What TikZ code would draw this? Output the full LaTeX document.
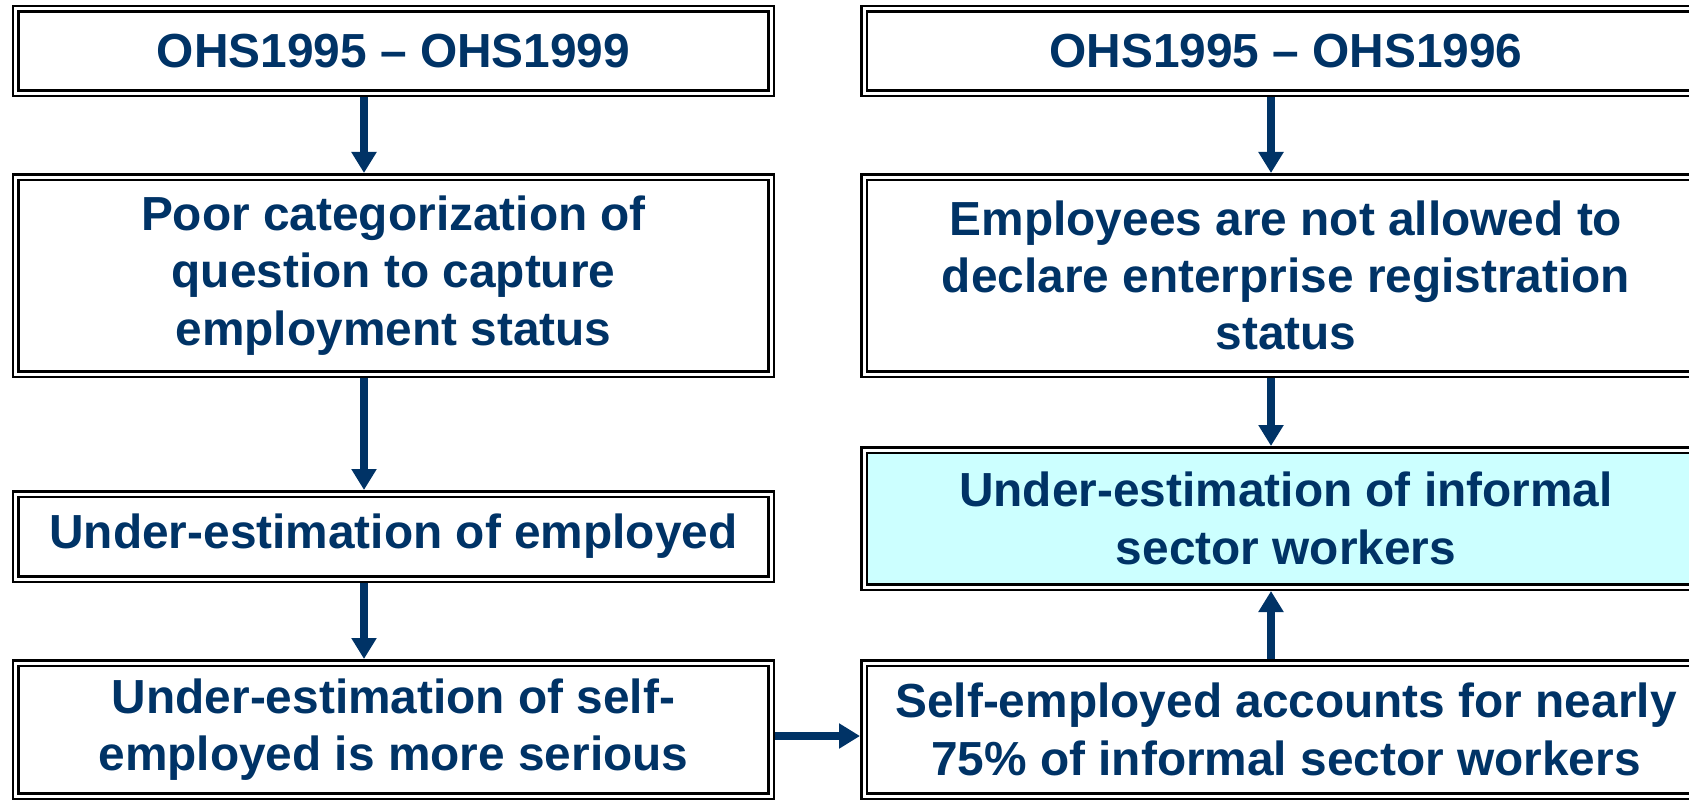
\documentclass[tikz,border=0pt]{standalone}
\usepackage{fontspec}
\setmainfont{Liberation Sans}
\usetikzlibrary{arrows.meta}
\definecolor{navy}{RGB}{0,51,102}
\definecolor{cyanfill}{RGB}{204,255,255}
\tikzset{
  box/.style={draw=black, double=white, line width=2.5bp, double distance=3bp,
    inner sep=0pt, outer sep=4bp, align=center, text=navy,
    font=\bfseries\fontsize{48}{57.6}\selectfont},
  arr/.style={draw=navy, line width=8bp, -{Triangle[width=24bp,length=21bp]}}
}
\begin{document}
\begin{tikzpicture}[x=1bp,y=-1bp]
\useasboundingbox (0,0) rectangle (1689,800);
\clip (0,0) rectangle (1689,800);
% left column
\node[box, minimum width=755bp, minimum height=84bp] (L1) at (393.5,51) {OHS1995 – OHS1999};
\node[box, minimum width=755bp, minimum height=197bp] (L2) at (393.5,275.5) {Poor categorization of\\question to capture\\employment status};
\node[box, minimum width=755bp, minimum height=85bp] (L3) at (393.5,536.5) {Under-estimation of employed};
\node[box, minimum width=755bp, minimum height=133bp] (L4) at (393.5,729.5) {Under-estimation of self-\\employed is more serious};
% right column
\node[box, minimum width=844bp, minimum height=84bp] (R1) at (1286,51) {OHS1995 – OHS1996};
\node[box, minimum width=844bp, minimum height=197bp] (R2) at (1286,275.5) {Employees are not allowed to\\declare enterprise registration\\status};
\node[box, fill=cyanfill, minimum width=844bp, minimum height=137bp] (R3) at (1286,518.5) {Under-estimation of informal\\sector workers};
\node[box, minimum width=844bp, minimum height=133bp] (R4) at (1286,729.5) {Self-employed accounts for nearly\\75\% of informal sector workers};
% arrow guide coordinates
\coordinate (lx) at (364,0);
\coordinate (rx) at (1271,0);
\coordinate (hy) at (0,736);
\draw[arr] (L1.south -| lx) -- (L2.north -| lx);
\draw[arr] (L2.south -| lx) -- (L3.north -| lx);
\draw[arr] (L3.south -| lx) -- (L4.north -| lx);
\draw[arr] (R1.south -| rx) -- (R2.north -| rx);
\draw[arr] (R2.south -| rx) -- (R3.north -| rx);
\draw[arr] (R4.north -| rx) -- (R3.south -| rx);
\draw[arr] (L4.east |- hy) -- (R4.west |- hy);
\end{tikzpicture}
\end{document}
